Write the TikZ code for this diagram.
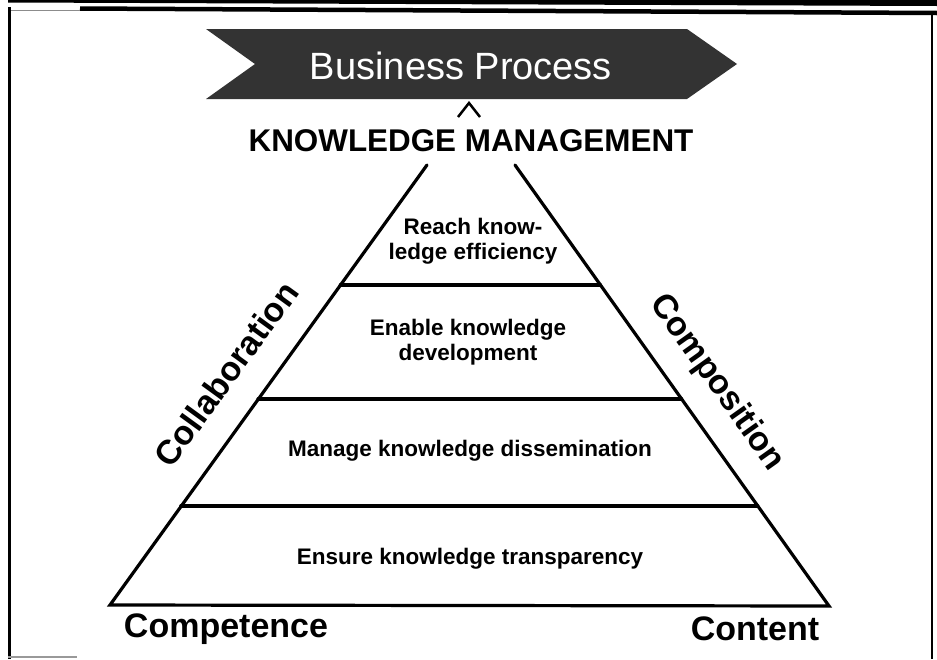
\documentclass[tikz,border=0pt]{standalone}
\usepackage{fontspec}
\setmainfont{Liberation Sans}
\begin{document}
\begin{tikzpicture}[x=1pt,y=-1pt,
  edge/.style={line width=3.2pt,line cap=round,line join=miter},
  tier/.style={font=\fontsize{22.5}{25.5}\selectfont\bfseries,align=center,inner sep=0pt},
  corner/.style={font=\fontsize{34}{36}\selectfont\bfseries,inner sep=0pt},
  side/.style={font=\fontsize{34}{36}\selectfont\bfseries,inner sep=0pt},
  frameline/.style={line width=3pt}]
\useasboundingbox (0,0) rectangle (937,659);
\fill[white] (0,0) rectangle (937,659);
% frame
\fill[black] (8,0) -- (937,0) -- (937,6) -- (8,2.5) -- cycle;
\draw[line width=4.5pt] (80,8.5) -- (937,13);
\draw[black!45,line width=1pt] (10,10) -- (80,10);
\draw[frameline] (9,7) -- (9,659);
\draw[line width=2.5pt] (932,12) -- (932,659);
\draw[black!40,line width=1.2pt] (8,657) -- (77,657);
% business process arrow
\coordinate (a1) at (206,29);
\coordinate (a2) at (687,29);
\coordinate (a3) at (737,64);
\coordinate (a4) at (687,99);
\coordinate (a5) at (206,99);
\coordinate (a6) at (255,64);
\fill[black!80] (a1) -- (a2) -- (a3) -- (a4) -- (a5) -- (a6) -- cycle;
\node[font=\fontsize{38}{40}\selectfont,text=white,inner sep=0pt] (bp) at (461,66) {Business Process};
% caret
\coordinate (c1) at (458,117);
\coordinate (c2) at (469,103);
\coordinate (c3) at (480,117);
\draw[line width=2.5pt] (c1) -- (c2) -- (c3);
\node[font=\fontsize{31.4}{33}\selectfont\bfseries,inner sep=0pt] (km) at (471,141) {KNOWLEDGE MANAGEMENT};
% pyramid
\coordinate (lt) at (427,165);
\coordinate (lb) at (110,605);
\coordinate (rt) at (515,165);
\coordinate (rb) at (829,606);
\draw[edge] (lt) -- (lb) -- (rb) -- (rt);
\coordinate (h1l) at (340.3,285);
\coordinate (h1r) at (600.4,285);
\coordinate (h2l) at (258,399);
\coordinate (h2r) at (681.6,399);
\coordinate (h3l) at (180.8,506);
\coordinate (h3r) at (757.8,506);
\draw[edge] (h1l) -- (h1r);
\draw[edge] (h2l) -- (h2r);
\draw[edge] (h3l) -- (h3r);
% tier texts
\node[tier] (t1) at (473,241) {Reach know-\\ledge efficiency};
\node[tier] (t2) at (468,342) {Enable knowledge\\development};
\node[tier] (t3) at (470,451) {Manage knowledge dissemination};
\node[tier] (t4) at (470,559) {Ensure knowledge transparency};
% side labels
\node[side,rotate=54] (col) at (226,374) {Collaboration};
\node[side,rotate=-54.6] (comp) at (717,383) {Composition};
\node[corner] (cmp) at (226,629) {Competence};
\node[corner] (cnt) at (755,629) {Content};
\end{tikzpicture}
\end{document}
